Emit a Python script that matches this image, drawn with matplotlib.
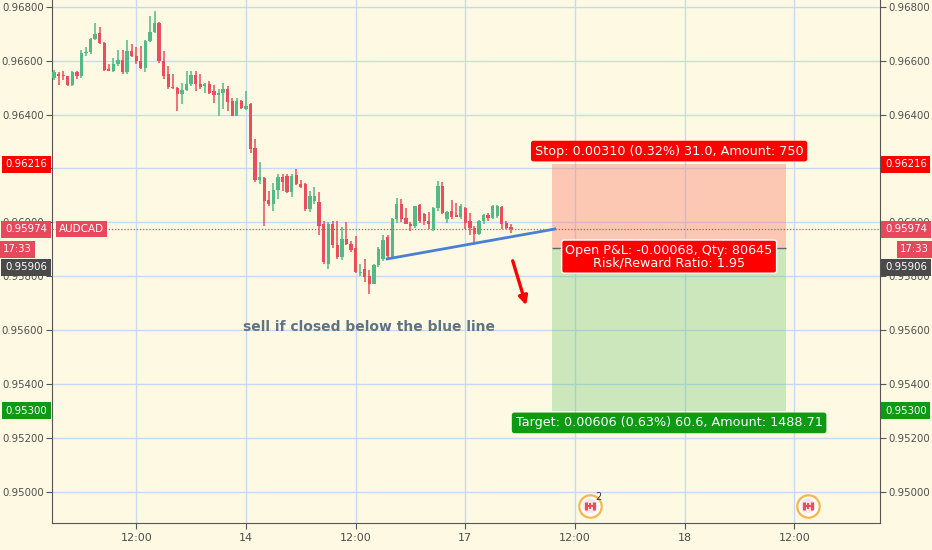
import matplotlib
matplotlib.use("Agg")
import matplotlib.pyplot as plt
from matplotlib.ticker import FormatStrFormatter

# AUDCAD 30 min candles
opens = [0.96534, 0.96552, 0.96546, 0.96542, 0.96508, 0.96557, 0.96542, 0.96629, 0.96633, 0.96681,
         0.96703, 0.96666, 0.96570, 0.96561, 0.96588, 0.96604, 0.96557, 0.96637, 0.96616, 0.96598,
         0.96573, 0.96674, 0.96705, 0.96740, 0.96600, 0.96549, 0.96503, 0.96500, 0.96475, 0.96491,
         0.96512, 0.96545, 0.96515, 0.96505, 0.96515, 0.96487, 0.96471, 0.96478, 0.96496, 0.96450,
         0.96395, 0.96450, 0.96422, 0.96438, 0.96277, 0.96158, 0.96165, 0.96084, 0.96068, 0.96120,
         0.96167, 0.96170, 0.96114, 0.96175, 0.96142, 0.96142, 0.96050, 0.96080, 0.96077, 0.95994,
         0.95846, 0.95994, 0.95914, 0.95871, 0.95939, 0.95920, 0.95904, 0.95810, 0.95828, 0.95800,
         0.95772, 0.95840, 0.95864, 0.95947, 0.95872, 0.96011, 0.96067, 0.96017, 0.95995, 0.95986,
         0.96064, 0.96032, 0.96005, 0.95974, 0.96054, 0.96134, 0.96011, 0.96042, 0.96027, 0.96020,
         0.96054, 0.96003, 0.95980, 0.95956, 0.96005, 0.96027, 0.96017, 0.96022, 0.96058, 0.95999,
         0.95983]
highs = [0.96567, 0.96557, 0.96561, 0.96544, 0.96561, 0.96561, 0.96641, 0.96650, 0.96685, 0.96740,
         0.96723, 0.96668, 0.96586, 0.96611, 0.96641, 0.96641, 0.96678, 0.96662, 0.96650, 0.96653,
         0.96678, 0.96764, 0.96783, 0.96745, 0.96635, 0.96579, 0.96549, 0.96503, 0.96518, 0.96561,
         0.96561, 0.96561, 0.96549, 0.96518, 0.96524, 0.96508, 0.96493, 0.96518, 0.96505, 0.96460,
         0.96460, 0.96455, 0.96487, 0.96444, 0.96308, 0.96222, 0.96167, 0.96117, 0.96146, 0.96179,
         0.96179, 0.96179, 0.96179, 0.96198, 0.96157, 0.96146, 0.96117, 0.96130, 0.96111, 0.96003,
         0.96000, 0.96003, 0.96006, 0.95982, 0.96000, 0.95932, 0.95950, 0.95846, 0.95865, 0.95822,
         0.95846, 0.95909, 0.95951, 0.95951, 0.96017, 0.96091, 0.96085, 0.96054, 0.96000, 0.96062,
         0.96067, 0.96035, 0.96040, 0.96056, 0.96153, 0.96150, 0.96042, 0.96081, 0.96073, 0.96067,
         0.96057, 0.96036, 0.95986, 0.96007, 0.96030, 0.96036, 0.96064, 0.96064, 0.96060, 0.96005,
         0.95993]
lows = [0.96527, 0.96508, 0.96527, 0.96506, 0.96506, 0.96530, 0.96537, 0.96616, 0.96623, 0.96678,
        0.96663, 0.96563, 0.96561, 0.96556, 0.96580, 0.96552, 0.96550, 0.96612, 0.96587, 0.96570,
        0.96556, 0.96670, 0.96703, 0.96593, 0.96530, 0.96493, 0.96493, 0.96412, 0.96438, 0.96487,
        0.96506, 0.96487, 0.96493, 0.96481, 0.96475, 0.96444, 0.96395, 0.96419, 0.96413, 0.96393,
        0.96393, 0.96422, 0.96417, 0.96257, 0.96148, 0.96142, 0.95988, 0.96062, 0.96043, 0.96087,
        0.96117, 0.96109, 0.96093, 0.96139, 0.96127, 0.96043, 0.96037, 0.96068, 0.95951, 0.95846,
        0.95828, 0.95903, 0.95865, 0.95859, 0.95914, 0.95890, 0.95810, 0.95800, 0.95779, 0.95732,
        0.95770, 0.95835, 0.95857, 0.95865, 0.95866, 0.95997, 0.96000, 0.95993, 0.95966, 0.95980,
        0.95999, 0.95990, 0.95974, 0.95967, 0.96042, 0.96032, 0.95999, 0.96011, 0.96018, 0.96011,
        0.95974, 0.95951, 0.95925, 0.95951, 0.95993, 0.96005, 0.96011, 0.96015, 0.95974, 0.95974,
        0.95962]
closes = [0.96556, 0.96542, 0.96542, 0.96508, 0.96557, 0.96542, 0.96629, 0.96633, 0.96681, 0.96700,
          0.96666, 0.96564, 0.96561, 0.96588, 0.96604, 0.96557, 0.96637, 0.96616, 0.96598, 0.96573,
          0.96674, 0.96705, 0.96740, 0.96600, 0.96542, 0.96503, 0.96500, 0.96475, 0.96491, 0.96512,
          0.96545, 0.96515, 0.96503, 0.96515, 0.96481, 0.96471, 0.96481, 0.96493, 0.96446, 0.96395,
          0.96450, 0.96426, 0.96432, 0.96271, 0.96158, 0.96167, 0.96080, 0.96068, 0.96120, 0.96167,
          0.96148, 0.96114, 0.96173, 0.96142, 0.96130, 0.96050, 0.96099, 0.96099, 0.95988, 0.95853,
          0.95994, 0.95914, 0.95871, 0.95939, 0.95920, 0.95896, 0.95816, 0.95816, 0.95797, 0.95772,
          0.95840, 0.95902, 0.95935, 0.95876, 0.96011, 0.96067, 0.96011, 0.95995, 0.95986, 0.96060,
          0.96005, 0.96005, 0.95995, 0.96054, 0.96134, 0.96036, 0.96040, 0.96020, 0.96020, 0.96060,
          0.95999, 0.95978, 0.95956, 0.96005, 0.96027, 0.96017, 0.96060, 0.96060, 0.95995, 0.95978,
          0.95974]

tick_idx = [18, 42, 66, 90, 114, 138, 162]
tick_lbl = ["12:00", "14", "12:00", "17", "12:00", "18", "12:00"]
price_ticks = [0.950, 0.952, 0.954, 0.956, 0.958, 0.960, 0.962, 0.964, 0.966, 0.968]

last_price = 0.95974
entry = 0.95906
stop = 0.96216
target = 0.95300
pos_start, pos_end = 109, 160.2
trend_x = [72.9, 109.6]
trend_y = [0.95864, 0.95975]
arrow_from = (100.2, 0.95867)
arrow_to = (103.5, 0.95682)
event_idx = [117.3, 165.0]
event_price = 0.94947

bg = "#fdf9e3"
up = "#53b987"
dn = "#eb4d5c"
lastc = "#e8475c"

fig = plt.figure(figsize=(9.32, 5.5), dpi=100, facecolor=bg)
ax = fig.add_axes([52 / 932, 27.3 / 550, 828 / 932, 522.7 / 550])
ax.set_facecolor(bg)
ax.set_xlim(-0.44, 180.75)
ax.set_ylim(0.94885, 0.96825)

ax.set_axisbelow(True)
ax.grid(color="#c6dbf3", lw=1)
ax.set_yticks(price_ticks)
ax.yaxis.set_major_formatter(FormatStrFormatter("%.5f"))
ax.set_xticks(tick_idx)
ax.set_xticklabels(tick_lbl)
ax.tick_params(axis="y", left=True, right=True, labelleft=True, labelright=True,
               labelsize=7.3, labelcolor="#4d4d4d", color="#555555", length=4, pad=2)
ax.tick_params(axis="x", labelsize=8, labelcolor="#4d4d4d", color="#555555", length=4)
ax.spines["top"].set_visible(False)
for s in ["left", "right", "bottom"]:
    ax.spines[s].set_color("#555555")

# candles
for i in range(len(closes)):
    o, h, l, c = opens[i], highs[i], lows[i], closes[i]
    col = up if c >= o else dn
    ax.vlines(i, l, h, color=col, lw=1.1, zorder=3)
    body = max(abs(c - o), 0.00002)
    ax.bar(i, body, bottom=min(o, c), width=0.72, color=col, zorder=3)

# short position tool
ax.fill_between([pos_start, pos_end], entry, stop, color="#ff6e5a", alpha=0.35, lw=0, zorder=2)
ax.fill_between([pos_start, pos_end], target, entry, color="#5dbe65", alpha=0.3, lw=0, zorder=2)
ax.hlines(entry, pos_start, pos_end, color="#666666", lw=1, zorder=2)
mid = (pos_start + pos_end) / 2

lbl = dict(ha="center", va="center", fontsize=9.2, color="white", textcoords="offset pixels", zorder=8)
ax.annotate("Stop: 0.00310 (0.32%) 31.0, Amount: 750", xy=(mid, stop), xytext=(0, 13),
            bbox=dict(boxstyle="round,pad=0.3,rounding_size=0.2", fc="#ff0000", ec="none"), **lbl)
ax.annotate("Open P&L: -0.00068, Qty: 80645\nRisk/Reward Ratio: 1.95", xy=(mid, entry), xytext=(0, -9),
            linespacing=0.95,
            bbox=dict(boxstyle="round,pad=0.3,rounding_size=0.2", fc="#ff0000", ec="white", lw=1), **lbl)
ax.annotate("Target: 0.00606 (0.63%) 60.6, Amount: 1488.71", xy=(mid, target), xytext=(0, -12),
            bbox=dict(boxstyle="round,pad=0.3,rounding_size=0.2", fc="#0f9a14", ec="none"), **lbl)

# drawings
ax.axhline(last_price, color=lastc, ls=(0, (1, 1.5)), lw=0.9, zorder=4)
ax.plot(trend_x, trend_y, color="#4a7fd6", lw=2, zorder=5)
ax.annotate("", xy=arrow_to, xytext=arrow_from,
            arrowprops=dict(arrowstyle="-|>", color="#ff0000", lw=2.4, mutation_scale=13), zorder=5)
ax.text(69.0, 0.95612, "sell if closed below the blue line", ha="center", va="center",
        fontsize=10, fontweight="bold", color="#5f7384", zorder=5)
ax.annotate("AUDCAD", xy=(0, last_price), xycoords=("axes fraction", "data"), xytext=(7, 0),
            textcoords="offset pixels", ha="left", va="center", fontsize=7.5, color="white",
            bbox=dict(boxstyle="square,pad=0.3", fc=lastc, ec="none"), zorder=8)

# events (canadian flags)
ax.scatter(event_idx, [event_price] * 2, s=260, facecolor="white", edgecolor="#f6b74a", lw=1.6, zorder=6, clip_on=False)
ax.scatter(event_idx, [event_price] * 2, s=110, facecolor="#fbe3e6", edgecolor="none", zorder=6)
ax.scatter([x - 0.95 for x in event_idx], [event_price] * 2, marker="|", s=40, color=dn, lw=2.2, zorder=7)
ax.scatter([x + 0.95 for x in event_idx], [event_price] * 2, marker="|", s=40, color=dn, lw=2.2, zorder=7)
ax.scatter(event_idx, [event_price] * 2, marker="P", s=18, color=dn, lw=0, zorder=7)
ax.annotate("2", xy=(event_idx[0], event_price), xytext=(8, 9), textcoords="offset pixels",
            fontsize=7, color="#333333", ha="center", va="center", zorder=7)


def side_label(txt, y, fc, dy=0, edge=False):
    if edge:
        spots = [(0, "left", -49), (1, "right", 49)]
    else:
        spots = [(0, "right", -5), (1, "left", 5)]
    for xf, ha, dx in spots:
        ax.annotate(txt, xy=(xf, y), xycoords=("axes fraction", "data"), xytext=(dx, dy),
                    textcoords="offset pixels", ha=ha, va="center", fontsize=7.3, color="white",
                    bbox=dict(boxstyle="square,pad=0.35", fc=fc, ec="none"),
                    annotation_clip=False, zorder=9)


side_label("0.96216", stop, "#ff0000")
side_label("0.95974", last_price, lastc)
side_label("17:33", last_price, lastc, dy=-20, edge=True)
side_label("0.95906", last_price, "#4a4a4a", dy=-38)
side_label("0.95300", target, "#0f9a14")

fig.savefig("out.png", dpi=100, facecolor=bg)
